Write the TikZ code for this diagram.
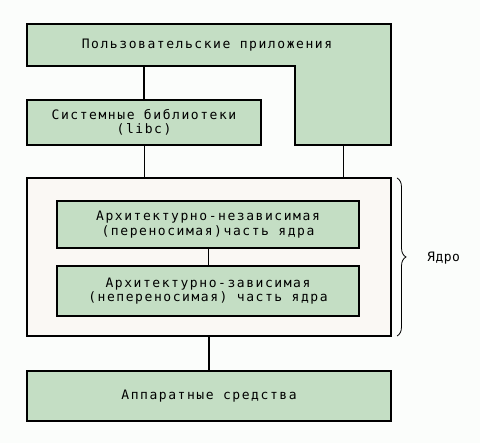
\documentclass[tikz,border=0pt]{standalone}
\usepackage{fontspec}
\setmonofont[LetterSpace=12]{DejaVu Sans Mono}
\newfontfamily\corefont[LetterSpace=4]{DejaVu Sans Mono}
\usetikzlibrary{decorations.pathreplacing}
\definecolor{boxgreen}{HTML}{C4DEC4}
\definecolor{kernelbg}{HTML}{FAF8F4}
\definecolor{pagebg}{HTML}{FBFDFB}
\tikzset{
  greenbox/.style={draw=black, line width=1.6pt, fill=boxgreen, align=center, inner sep=0pt, font=\ttfamily\fontsize{13}{14.5}\selectfont},
  thinline/.style={line width=0.8pt},
  thickline/.style={line width=1.6pt},
  lbl/.style={align=center, inner sep=0pt, font=\ttfamily\fontsize{13}{14.5}\selectfont}
}
\begin{document}
\begin{tikzpicture}[x=1pt,y=-1pt]
\fill[pagebg] (0,0) rectangle (480,443);
\useasboundingbox (0,0) rectangle (480,443);
% user applications L-shape
\draw[line width=1.6pt, fill=boxgreen] (27,24) -- (391,24) -- (391,145) -- (295,145) -- (295,66) -- (27,66) -- cycle;
\node[lbl] (apps) at (207,45) {Пользовательские приложения};
\coordinate (appsbot) at (144,66);
\coordinate (appsr) at (343,145);
% libs
\node[greenbox, minimum width=234pt, minimum height=45pt] (libs) at (144,122.5) {Системные библиотеки\\(libc)};
% kernel
\node[draw=black, line width=1.6pt, fill=kernelbg, minimum width=364pt, minimum height=158pt, inner sep=0pt] (kernel) at (209,257) {};
\node[greenbox, minimum width=302pt, minimum height=47pt] (in1) at (208,224.5) {Архитектурно-независимая\\(переносимая)часть ядра};
\node[greenbox, minimum width=302pt, minimum height=50pt] (in2) at (208,291) {Архитектурно-зависимая\\(непереносимая) часть ядра};
% hardware
\node[greenbox, minimum width=364pt, minimum height=50pt] (hw) at (209,396) {Аппаратные средства};
% connectors
\draw[thickline] (appsbot) -- (libs.north);
\draw[thinline] (libs.south) -- (libs.south |- kernel.north);
\draw[thinline] (appsr) -- (appsr |- kernel.north);
\draw[thinline] (in1.south) -- (in2.north);
\draw[thickline] (kernel.south) -- (hw.north);
% brace
\coordinate (bt) at (397,178);
\coordinate (bb) at (397,336);
\draw[thinline, decorate, decoration={brace, amplitude=9pt}] (bt) -- (bb);
\node[inner sep=0pt, anchor=west, font=\corefont\fontsize{13}{14.5}\selectfont] (core) at (427,258) {Ядро};
\end{tikzpicture}
\end{document}
